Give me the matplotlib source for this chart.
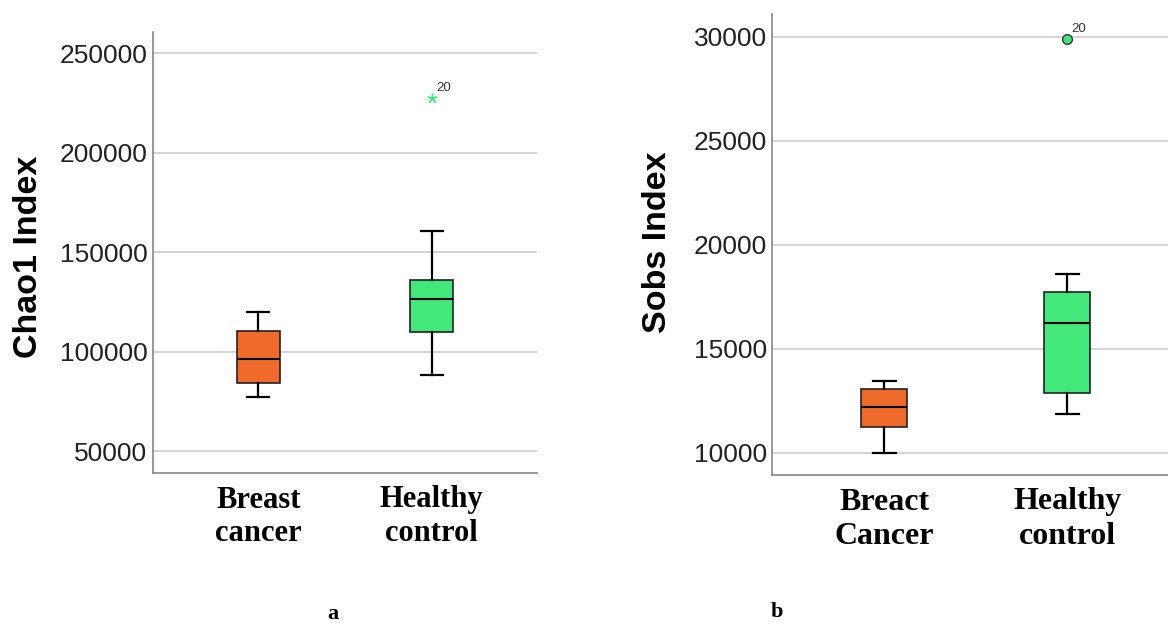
from matplotlib import pyplot as plt

# group names on x axis
groups_a = ["Breast\ncancer", "Healthy\ncontrol"]
groups_b = ["Breact\nCancer", "Healthy\ncontrol"]

# Chao1 index: whisker low, q1, median, q3, whisker high
chao_low = [77200, 88400]
chao_q1 = [84300, 110000]
chao_med = [96300, 126400]
chao_q3 = [110500, 135900]
chao_high = [120200, 160900]
chao_outlier = [[], [227400]]

# Sobs index
sobs_low = [10000, 11840]
sobs_q1 = [11240, 12850]
sobs_med = [12200, 16250]
sobs_q3 = [13060, 17750]
sobs_high = [13430, 18600]
sobs_outlier = [[], [29880]]

outlier_case = "20"
colors = ["#F06A2C", "#42E87A"]


def make_stats(low, q1, med, q3, high, fl):
    return [dict(whislo=low[i], q1=q1[i], med=med[i], q3=q3[i], whishi=high[i], fliers=fl[i])
            for i in range(len(low))]


def draw_panel(ax, stats, labels, yticks, ylim, ylabel, marker, lab_size, spacing):
    bp = ax.bxp(stats, positions=[0, 1], widths=0.25, patch_artist=True, showfliers=False,
                capwidths=0.125,
                boxprops=dict(edgecolor="#222222", linewidth=1.2),
                medianprops=dict(color="black", linewidth=1.5),
                whiskerprops=dict(color="black", linewidth=1.6),
                capprops=dict(color="black", linewidth=1.6))
    for patch, c in zip(bp["boxes"], colors):
        patch.set_facecolor(c)
    # outliers
    for i, s in enumerate(stats):
        for v in s["fliers"]:
            if marker == "*":
                ax.plot(i, v, marker=(5, 2, 0), color=colors[i], markersize=7,
                        markeredgewidth=1.0, zorder=5)
            else:
                ax.plot(i, v, marker="o", markerfacecolor=colors[i], markeredgecolor="#333333",
                        markersize=7, zorder=5)
            ax.annotate(outlier_case, (i, v), xytext=(3, 5), textcoords="offset points",
                        fontsize=9.5, color="#333333", family="Liberation Sans")
    ax.set_yticks(yticks)
    ax.set_ylim(ylim)
    ax.yaxis.grid(True, color="#d4d4d4", linewidth=1.4)
    ax.set_axisbelow(True)
    ax.set_xticks([0, 1])
    ax.set_xticklabels(labels, family="Liberation Serif", fontweight="bold",
                       fontsize=lab_size, linespacing=spacing)
    for t in ax.get_yticklabels():
        t.set_family("Liberation Sans")
        t.set_fontsize(19)
        t.set_color("#222222")
    ax.tick_params(axis="y", length=0, pad=4)
    ax.tick_params(axis="x", length=0, pad=9)
    for sp in ["top", "right"]:
        ax.spines[sp].set_visible(False)
    for sp in ["left", "bottom"]:
        ax.spines[sp].set_color("#888888")
        ax.spines[sp].set_linewidth(1.2)
    ax.set_ylabel(ylabel, family="Liberation Sans", fontweight="bold", fontsize=24.5)


fig = plt.figure(figsize=(11.68, 6.25), dpi=100)
ax1 = fig.add_axes([0.131, 0.2432, 0.3288, 0.7056])
ax2 = fig.add_axes([0.6612, 0.24, 0.3388, 0.7376])

draw_panel(ax1, make_stats(chao_low, chao_q1, chao_med, chao_q3, chao_high, chao_outlier),
           groups_a, [50000, 100000, 150000, 200000, 250000], (39100, 260700),
           "Chao1 Index", "*", 22, 1.22)
ax1.set_xlim(-0.607, 1.607)
ax1.yaxis.set_label_coords(-0.285, 0.49)

draw_panel(ax2, make_stats(sobs_low, sobs_q1, sobs_med, sobs_q3, sobs_high, sobs_outlier),
           groups_b, [10000, 15000, 20000, 25000, 30000], (8930, 31090),
           "Sobs Index", "o", 23, 1.25)
ax2.set_xlim(-0.612, 1.55)
ax2.yaxis.set_label_coords(-0.25, 0.505)

fig.text(333 / 1168, 1 - 614 / 625, "a", family="Liberation Serif", fontweight="bold",
         fontsize=16, ha="center", va="center")
fig.text(777 / 1168, 1 - 612 / 625, "b", family="Liberation Serif", fontweight="bold",
         fontsize=16, ha="center", va="center")

fig.savefig("out.png", dpi=100)
